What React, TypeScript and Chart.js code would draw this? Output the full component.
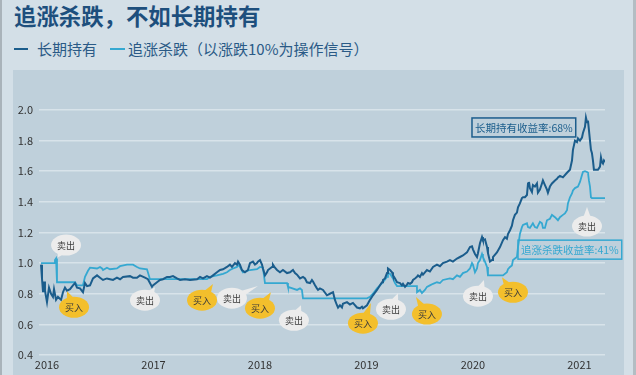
import React, { useEffect, useRef } from 'react';
import { Chart, registerables } from 'chart.js';

Chart.register(...registerables);

const TITLE = '追涨杀跌，不如长期持有';
const LEGEND_HOLD = '长期持有';
const LEGEND_CHASE = '追涨杀跌（以涨跌10%为操作信号）';

const YEAR_TICKS = [2016, 2017, 2018, 2019, 2020, 2021];
const YEAR_LABELS = ['2016', '2017', '2018', '2019', '2020', '2021'];
const X_MIN = 2016;
const X_MAX = 2021.315;
const Y_MIN = 0.4;
const Y_MAX = 2.0;
const Y_STEP = 0.2;

// 长期持有 (fractional year, net value)
const HOLD_X = [
  2016.019, 2016.028, 2016.038, 2016.047, 2016.056, 2016.075, 2016.094, 2016.113, 2016.131, 2016.141,
  2016.160, 2016.178, 2016.207, 2016.225, 2016.244, 2016.263, 2016.291, 2016.319, 2016.338, 2016.357,
  2016.385, 2016.413, 2016.432, 2016.451, 2016.479, 2016.507, 2016.545, 2016.573, 2016.601, 2016.638,
  2016.667, 2016.695, 2016.732, 2016.761, 2016.789, 2016.854, 2016.883, 2016.920, 2016.948, 2016.995,
  2017.023, 2017.042, 2017.061, 2017.070, 2017.108, 2017.136, 2017.164, 2017.202, 2017.230, 2017.258,
  2017.296, 2017.324, 2017.371, 2017.418, 2017.484, 2017.512, 2017.540, 2017.577, 2017.606, 2017.634,
  2017.671, 2017.700, 2017.728, 2017.765, 2017.793, 2017.812, 2017.840, 2017.859, 2017.869, 2017.887,
  2017.906, 2017.934, 2017.962, 2017.981, 2018.009, 2018.028, 2018.047, 2018.056, 2018.075, 2018.094,
  2018.103, 2018.122, 2018.141, 2018.150, 2018.188, 2018.197, 2018.216, 2018.235, 2018.263, 2018.291,
  2018.329, 2018.357, 2018.385, 2018.404, 2018.423, 2018.451, 2018.479, 2018.498, 2018.516, 2018.545,
  2018.563, 2018.573, 2018.592, 2018.610, 2018.620, 2018.638, 2018.667, 2018.704, 2018.732, 2018.761,
  2018.779, 2018.798, 2018.808, 2018.826, 2018.845, 2018.854, 2018.892, 2018.920, 2018.948, 2018.986,
  2019.014, 2019.033, 2019.042, 2019.080, 2019.108, 2019.136, 2019.174, 2019.202, 2019.221, 2019.230,
  2019.249, 2019.268, 2019.277, 2019.296, 2019.315, 2019.324, 2019.343, 2019.362, 2019.390, 2019.408,
  2019.418, 2019.437, 2019.455, 2019.465, 2019.484, 2019.502, 2019.512, 2019.531, 2019.549, 2019.559,
  2019.577, 2019.596, 2019.606, 2019.624, 2019.643, 2019.671, 2019.700, 2019.737, 2019.765, 2019.793,
  2019.831, 2019.859, 2019.887, 2019.925, 2019.953, 2019.981, 2020.019, 2020.047, 2020.066, 2020.075,
  2020.094, 2020.113, 2020.122, 2020.141, 2020.160, 2020.169, 2020.188, 2020.207, 2020.216, 2020.235,
  2020.254, 2020.263, 2020.300, 2020.329, 2020.357, 2020.376, 2020.394, 2020.404, 2020.423, 2020.441,
  2020.451, 2020.469, 2020.488, 2020.498, 2020.516, 2020.535, 2020.545, 2020.563, 2020.582, 2020.592,
  2020.601, 2020.610, 2020.629, 2020.638, 2020.657, 2020.676, 2020.685, 2020.704, 2020.723, 2020.732,
  2020.751, 2020.770, 2020.779, 2020.798, 2020.817, 2020.845, 2020.864, 2020.873, 2020.892, 2020.920,
  2020.958, 2020.986, 2021.005, 2021.014, 2021.033, 2021.052, 2021.061, 2021.080, 2021.099, 2021.108,
  2021.127, 2021.136, 2021.146, 2021.155, 2021.164, 2021.174, 2021.183, 2021.192, 2021.202, 2021.211,
  2021.230, 2021.249, 2021.268, 2021.277, 2021.286, 2021.296, 2021.305, 2021.315,
];
const HOLD_Y = [
  0.99, 0.90, 0.81, 0.88, 0.82, 0.745, 0.84, 0.80, 0.78, 0.83,
  0.76, 0.78, 0.76, 0.81, 0.84, 0.82, 0.83, 0.855, 0.87, 0.84,
  0.835, 0.81, 0.87, 0.85, 0.855, 0.90, 0.92, 0.905, 0.89, 0.90,
  0.895, 0.89, 0.905, 0.895, 0.91, 0.915, 0.905, 0.905, 0.92, 0.905,
  0.895, 0.87, 0.845, 0.855, 0.875, 0.89, 0.895, 0.91, 0.91, 0.915,
  0.90, 0.89, 0.895, 0.89, 0.895, 0.91, 0.90, 0.915, 0.905, 0.92,
  0.94, 0.955, 0.96, 0.975, 0.99, 0.975, 1.00, 0.99, 1.01, 0.99,
  0.955, 0.94, 0.955, 1.00, 1.01, 0.99, 1.00, 1.01, 1.02, 0.99,
  0.965, 0.92, 0.94, 0.955, 0.975, 0.99, 0.97, 0.955, 0.94, 0.955,
  0.935, 0.94, 0.955, 0.935, 0.925, 0.90, 0.91, 0.90, 0.875, 0.87,
  0.89, 0.88, 0.855, 0.835, 0.825, 0.835, 0.825, 0.79, 0.80, 0.81,
  0.76, 0.725, 0.71, 0.725, 0.71, 0.735, 0.745, 0.73, 0.74, 0.71,
  0.705, 0.715, 0.705, 0.725, 0.76, 0.79, 0.825, 0.855, 0.875, 0.89,
  0.90, 0.935, 0.965, 0.955, 0.94, 0.92, 0.90, 0.875, 0.87, 0.855,
  0.865, 0.845, 0.86, 0.87, 0.865, 0.875, 0.89, 0.90, 0.91, 0.92,
  0.91, 0.935, 0.925, 0.94, 0.955, 0.945, 0.975, 0.99, 0.98, 1.00,
  1.01, 1.02, 1.01, 1.03, 1.04, 1.05, 1.07, 1.105, 1.11, 1.09,
  1.06, 1.04, 1.065, 1.13, 1.17, 1.15, 1.155, 1.105, 1.065, 1.01,
  1.02, 1.04, 1.07, 1.105, 1.15, 1.17, 1.16, 1.19, 1.215, 1.245,
  1.28, 1.315, 1.33, 1.365, 1.39, 1.425, 1.43, 1.43, 1.445, 1.52,
  1.53, 1.49, 1.465, 1.51, 1.50, 1.52, 1.46, 1.48, 1.52, 1.54,
  1.51, 1.48, 1.46, 1.50, 1.52, 1.54, 1.55, 1.56, 1.57, 1.56,
  1.59, 1.61, 1.67, 1.74, 1.80, 1.79, 1.815, 1.80, 1.82, 1.85,
  1.89, 1.95, 1.92, 1.93, 1.87, 1.80, 1.74, 1.72, 1.67, 1.61,
  1.61, 1.61, 1.63, 1.69, 1.66, 1.65, 1.67, 1.66,
];

// 追涨杀跌 (fractional year, net value)
const CHASE_X = [
  2016.019, 2016.141, 2016.150, 2016.160, 2016.169, 2016.338, 2016.357, 2016.413, 2016.432, 2016.460,
  2016.479, 2016.545, 2016.573, 2016.592, 2016.601, 2016.638, 2016.667, 2016.732, 2016.761, 2016.826,
  2016.883, 2016.920, 2016.948, 2017.014, 2017.042, 2017.577, 2017.606, 2017.671, 2017.728, 2017.765,
  2017.793, 2017.822, 2017.859, 2017.869, 2017.887, 2017.915, 2017.981, 2018.047, 2018.075, 2018.103,
  2018.122, 2018.329, 2018.338, 2018.423, 2018.451, 2018.469, 2018.479, 2019.080, 2019.108, 2019.136,
  2019.174, 2019.202, 2019.230, 2019.268, 2019.277, 2019.296, 2019.324, 2019.343, 2019.362, 2019.549,
  2019.550, 2019.577, 2019.596, 2019.624, 2019.643, 2019.671, 2019.700, 2019.737, 2019.765, 2019.793,
  2019.859, 2019.887, 2019.925, 2019.953, 2019.981, 2020.019, 2020.047, 2020.066, 2020.075, 2020.094,
  2020.113, 2020.122, 2020.141, 2020.160, 2020.169, 2020.188, 2020.207, 2020.216, 2020.357, 2020.394,
  2020.404, 2020.423, 2020.441, 2020.451, 2020.488, 2020.498, 2020.516, 2020.535, 2020.545, 2020.582,
  2020.592, 2020.610, 2020.629, 2020.638, 2020.657, 2020.676, 2020.704, 2020.723, 2020.732, 2020.751,
  2020.770, 2020.798, 2020.817, 2020.845, 2020.873, 2020.892, 2020.920, 2020.939, 2020.958, 2020.967,
  2020.986, 2021.005, 2021.014, 2021.033, 2021.061, 2021.080, 2021.099, 2021.108, 2021.127, 2021.146,
  2021.155, 2021.164, 2021.174, 2021.183, 2021.192, 2021.315,
];
const CHASE_Y = [
  1.00, 1.00, 1.02, 1.03, 0.875, 0.875, 0.855, 0.855, 0.91, 0.95,
  0.97, 0.965, 0.975, 0.965, 0.955, 0.97, 0.96, 0.965, 0.98, 0.99,
  0.99, 0.975, 0.965, 0.96, 0.895, 0.895, 0.91, 0.92, 0.93, 0.94,
  0.955, 0.965, 0.975, 0.99, 0.975, 0.94, 0.955, 0.96, 0.975, 0.97,
  0.87, 0.87, 0.845, 0.825, 0.835, 0.825, 0.77, 0.77, 0.78, 0.80,
  0.835, 0.855, 0.875, 0.91, 0.935, 0.93, 0.90, 0.87, 0.85, 0.85,
  0.81, 0.825, 0.805, 0.825, 0.845, 0.855, 0.865, 0.875, 0.87, 0.89,
  0.90, 0.895, 0.92, 0.91, 0.935, 0.945, 0.965, 1.00, 0.99, 0.94,
  0.965, 1.00, 1.02, 1.06, 1.04, 1.01, 0.975, 0.92, 0.92, 0.94,
  0.96, 0.975, 0.985, 1.02, 1.04, 1.105, 1.19, 1.235, 1.25, 1.26,
  1.235, 1.23, 1.25, 1.26, 1.235, 1.23, 1.27, 1.26, 1.23, 1.23,
  1.28, 1.29, 1.315, 1.30, 1.28, 1.30, 1.315, 1.325, 1.345, 1.39,
  1.43, 1.455, 1.475, 1.49, 1.50, 1.53, 1.575, 1.595, 1.60, 1.595,
  1.59, 1.54, 1.50, 1.43, 1.425, 1.425,
];

// trade signal bubbles: label, bubble centre and pointer tip (data units)
const SIGNAL_LABELS = ['卖出', '买入', '卖出', '买入', '卖出', '买入', '卖出', '买入', '卖出', '买入', '卖出', '买入', '卖出'];
const SIGNAL_X = [2016.254, 2016.329, 2016.995, 2017.531, 2017.812, 2018.075, 2018.394, 2019.042, 2019.305, 2019.643, 2020.122, 2020.451, 2021.146];
const SIGNAL_Y = [1.118, 0.712, 0.758, 0.758, 0.771, 0.706, 0.627, 0.608, 0.699, 0.667, 0.784, 0.810, 1.242];
const SIGNAL_TIP_X = [2016.178, 2016.263, 2017.089, 2017.634, 2018.056, 2018.178, 2018.460, 2019.117, 2019.371, 2019.540, 2020.178, 2020.347, 2021.146];
const SIGNAL_TIP_Y = [1.039, 0.817, 0.843, 0.863, 0.850, 0.810, 0.725, 0.739, 0.804, 0.778, 0.889, 0.908, 1.366];

const RETURN_LABELS = ['长期持有收益率:68%', '追涨杀跌收益率:41%'];
const RETURN_X = [2020.066, 2020.498];
const RETURN_Y = [1.948, 1.150];

const HOLD_COLOR = '#1b5d8c';
const CHASE_COLOR = '#35a8d1';
const SELL_COLOR = '#ececec';
const BUY_COLOR = '#f3bf2c';
const FONT = '"Noto Sans CJK SC", "Noto Sans", sans-serif';

const annotationPlugin = {
  id: 'annotations',
  afterDatasetsDraw(chart: any) {
    const { ctx, scales } = chart;
    const xs = scales.x;
    const ys = scales.y;
    ctx.save();
    // return boxes
    ctx.font = `10.5px ${FONT}`;
    ctx.textBaseline = 'middle';
    ctx.textAlign = 'left';
    RETURN_LABELS.forEach((label, i) => {
      const color = i === 0 ? HOLD_COLOR : CHASE_COLOR;
      const left = xs.getPixelForValue(RETURN_X[i]);
      const top = ys.getPixelForValue(RETURN_Y[i]);
      const w = ctx.measureText(label).width + 6;
      const h = 19;
      ctx.strokeStyle = color;
      ctx.lineWidth = 1.5;
      ctx.strokeRect(left, top, w, h);
      ctx.fillStyle = color;
      ctx.fillText(label, left + 3, top + h / 2 + 0.5);
    });
    // bubbles
    SIGNAL_LABELS.forEach((label, i) => {
      const cx = xs.getPixelForValue(SIGNAL_X[i]);
      const cy = ys.getPixelForValue(SIGNAL_Y[i]);
      const tx = xs.getPixelForValue(SIGNAL_TIP_X[i]);
      const ty = ys.getPixelForValue(SIGNAL_TIP_Y[i]);
      const rx = 15;
      const ry = 10.5;
      const ang = Math.atan2((ty - cy) / ry, (tx - cx) / rx);
      ctx.fillStyle = label === '买入' ? BUY_COLOR : SELL_COLOR;
      ctx.beginPath();
      ctx.ellipse(cx, cy, rx, ry, 0, 0, Math.PI * 2);
      ctx.fill();
      ctx.beginPath();
      ctx.moveTo(cx + rx * 0.85 * Math.cos(ang - 0.3), cy + ry * 0.85 * Math.sin(ang - 0.3));
      ctx.lineTo(tx, ty);
      ctx.lineTo(cx + rx * 0.85 * Math.cos(ang + 0.3), cy + ry * 0.85 * Math.sin(ang + 0.3));
      ctx.closePath();
      ctx.fill();
      ctx.fillStyle = '#3a3a3a';
      ctx.font = `9px ${FONT}`;
      ctx.textAlign = 'center';
      ctx.textBaseline = 'middle';
      ctx.fillText(label, cx, cy + 0.5);
    });
    ctx.restore();
  },
};

export default function App() {
  const canvasRef = useRef<HTMLCanvasElement>(null);

  useEffect(() => {
    document.body.style.margin = '0';
    const canvas = canvasRef.current;
    if (!canvas) return;
    const chart = new Chart(canvas, {
      type: 'line',
      data: {
        datasets: [
          {
            label: LEGEND_HOLD,
            data: HOLD_X.map((x, i) => ({ x, y: HOLD_Y[i] })),
            borderColor: HOLD_COLOR,
            borderWidth: 2,
            pointRadius: 0,
            tension: 0,
            fill: false,
          },
          {
            label: LEGEND_CHASE,
            data: CHASE_X.map((x, i) => ({ x, y: CHASE_Y[i] })),
            borderColor: CHASE_COLOR,
            borderWidth: 1.8,
            pointRadius: 0,
            tension: 0,
            fill: false,
          },
        ],
      },
      options: {
        responsive: false,
        animation: false,
        devicePixelRatio: 1,
        layout: { padding: { top: 110, right: 31, left: 0, bottom: 0 } },
        plugins: {
          legend: { display: false },
          tooltip: { enabled: false },
        },
        scales: {
          x: {
            type: 'linear',
            min: X_MIN,
            max: X_MAX,
            grid: { display: false, drawTicks: false },
            border: { display: false },
            afterBuildTicks: (scale: any) => {
              scale.ticks = YEAR_TICKS.map((v) => ({ value: v }));
            },
            afterFit: (scale: any) => {
              scale.height = 20;
            },
            ticks: {
              autoSkip: false,
              maxRotation: 0,
              padding: 3,
              labelOffset: 8,
              color: '#333333',
              font: { family: FONT, size: 11 },
              callback: (_v: any, i: number) => YEAR_LABELS[i],
            },
          },
          y: {
            min: Y_MIN,
            max: Y_MAX,
            grid: { color: '#d8e3ea', lineWidth: 1.5, drawTicks: false },
            border: { display: false },
            afterFit: (scale: any) => {
              scale.width = 39;
            },
            ticks: {
              stepSize: Y_STEP,
              padding: 6,
              color: '#333333',
              font: { family: FONT, size: 11 },
              callback: (v: any) => Number(v).toFixed(1),
            },
          },
        },
      },
      plugins: [annotationPlugin],
    });
    return () => chart.destroy();
  }, []);

  return (
    <div
      style={{
        position: 'fixed',
        left: 0,
        top: 0,
        width: 636,
        height: 375,
        overflow: 'hidden',
        background: '#d3dfe7',
        fontFamily: FONT,
      }}
    >
      <div style={{ position: 'absolute', left: 0, top: 0, width: 2, height: 375, background: '#a9b3ba' }} />
      <div style={{ position: 'absolute', left: 633, top: 0, width: 3, height: 375, background: '#b3bdc3' }} />
      <div style={{ position: 'absolute', left: 13, top: 70, width: 611, height: 305, background: '#bfd0db' }} />
      <div
        style={{
          position: 'absolute',
          left: 14,
          top: 4,
          fontSize: 22.4,
          lineHeight: '22px',
          fontWeight: 700,
          color: '#1d4f7d',
          whiteSpace: 'nowrap',
        }}
      >
        {TITLE}
      </div>
      <div
        style={{
          position: 'absolute',
          left: 14,
          top: 41,
          fontSize: 15,
          lineHeight: '15px',
          color: '#2a5a86',
          whiteSpace: 'nowrap',
          display: 'flex',
          alignItems: 'center',
        }}
      >
        <span style={{ display: 'inline-block', width: 14, height: 2, background: HOLD_COLOR, marginRight: 9 }} />
        <span>{LEGEND_HOLD}</span>
        <span style={{ display: 'inline-block', width: 15, height: 2, background: CHASE_COLOR, marginLeft: 13, marginRight: 3 }} />
        <span>{LEGEND_CHASE}</span>
      </div>
      <canvas
        ref={canvasRef}
        width={636}
        height={375}
        style={{ position: 'absolute', left: 0, top: 0, width: 636, height: 375 }}
      />
    </div>
  );
}
